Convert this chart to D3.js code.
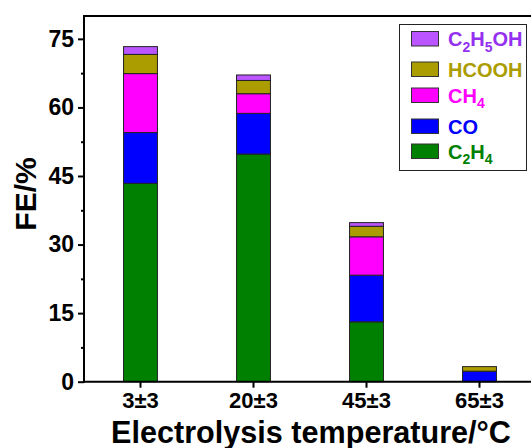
<!DOCTYPE html>
<html>
<head>
<meta charset="utf-8">
<script src="https://cdn.jsdelivr.net/npm/d3@7"></script>
<style>
  html, body { margin: 0; padding: 0; background: #fff; }
  svg { display: block; font-family: Arial, "Liberation Sans", sans-serif; }
</style>
</head>
<body>
<svg id="chart" width="531" height="448"></svg>
<script>
// ---- data ----
const categories = ["3±3", "20±3", "45±3", "65±3"];
const seriesNames = ["C2H4", "CO", "CH4", "HCOOH", "C2H5OH"];
const C2H4   = [43.4, 49.8, 13.1, 0.0];
const CO     = [11.1,  8.9, 10.2, 2.3];
const CH4    = [12.9,  4.3,  8.4, 0.0];
const HCOOH  = [ 4.2,  2.9,  2.3, 1.0];
const C2H5OH = [ 1.7,  1.2,  0.8, 0.0];
const yTicks = [0, 15, 30, 45, 60, 75];
const yMinorTicks = [7.5, 22.5, 37.5, 52.5, 67.5];

const seriesValues = { C2H4, CO, CH4, HCOOH, C2H5OH };
const fills = { C2H4: "#008000", CO: "#0000ff", CH4: "#ff00ff", HCOOH: "#ab9c00", C2H5OH: "#bb55ff" };
const textColors = { C2H4: "#008000", CO: "#0000ff", CH4: "#ff00ff", HCOOH: "#ab9c00", C2H5OH: "#9430f0" };
// label parts: [text, isSubscript]
const labelParts = {
  C2H5OH: [["C",0],["2",1],["H",0],["5",1],["OH",0]],
  HCOOH: [["HCOOH",0]],
  CH4: [["CH",0],["4",1]],
  CO: [["CO",0]],
  C2H4: [["C",0],["2",1],["H",0],["4",1]]
};

// ---- layout ----
const svg = d3.select("#chart");
const mLeft = 84, mTop = 16, mBottom = 381.7, mRight = 536;

const x = d3.scaleBand().domain(categories).range([mLeft, mRight])
  .paddingInner(0.7).paddingOuter(0.35);
const y = d3.scaleLinear().domain([0, 80]).range([mBottom, mTop]);

const table = categories.map((c, i) => {
  const row = { cat: c };
  seriesNames.forEach(s => row[s] = seriesValues[s][i]);
  return row;
});
const stacked = d3.stack().keys(seriesNames)(table);

// bars
const g = svg.append("g");
stacked.forEach(layer => {
  g.selectAll(null).data(layer.filter(d => d[1] - d[0] > 0)).enter().append("rect")
    .attr("x", d => x(d.data.cat))
    .attr("width", x.bandwidth())
    .attr("y", d => y(d[1]))
    .attr("height", d => y(d[0]) - y(d[1]))
    .attr("fill", fills[layer.key])
    .attr("stroke", "#222")
    .attr("stroke-width", 1);
});

// frame: top line
svg.append("line").attr("x1", mLeft).attr("x2", 531).attr("y1", mTop).attr("y2", mTop)
  .attr("stroke", "#000").attr("stroke-width", 2);

// y axis
const yAxis = d3.axisLeft(y).tickValues(yTicks).tickSize(6).tickPadding(4).tickFormat(d3.format("d"));
const ya = svg.append("g").attr("transform", `translate(${mLeft},0)`).call(yAxis);
ya.select(".domain").remove();
ya.selectAll(".tick line").attr("stroke", "#000").attr("stroke-width", 2);
ya.selectAll(".tick text").attr("font-size", 23).attr("font-weight", "bold").attr("fill", "#000")
  .attr("font-family", "Arial, 'Liberation Sans', sans-serif");
const yMinor = d3.axisLeft(y).tickValues(yMinorTicks).tickSize(3).tickFormat("");
const ym = svg.append("g").attr("transform", `translate(${mLeft},0)`).call(yMinor);
ym.select(".domain").remove();
ym.selectAll(".tick line").attr("stroke", "#000").attr("stroke-width", 2);
svg.append("line").attr("x1", mLeft).attr("x2", mLeft).attr("y1", mTop - 1).attr("y2", mBottom + 1)
  .attr("stroke", "#000").attr("stroke-width", 2);

// x axis
const xAxis = d3.axisBottom(x).tickSize(6).tickPadding(5);
const xa = svg.append("g").attr("transform", `translate(0,${mBottom})`).call(xAxis);
xa.select(".domain").remove();
xa.selectAll(".tick line").attr("stroke", "#000").attr("stroke-width", 2);
xa.selectAll(".tick text").attr("font-size", 22).attr("font-weight", "bold").attr("fill", "#000")
  .attr("font-family", "Arial, 'Liberation Sans', sans-serif");
svg.append("line").attr("x1", mLeft - 1).attr("x2", 531).attr("y1", mBottom).attr("y2", mBottom)
  .attr("stroke", "#000").attr("stroke-width", 2);

// axis titles
svg.append("text").attr("x", 311).attr("y", 443).attr("text-anchor", "middle")
  .attr("font-size", 30.6).attr("font-weight", "bold").attr("fill", "#000")
  .text("Electrolysis temperature/°C");
svg.append("text").attr("transform", "translate(36,194) rotate(-90)").attr("text-anchor", "middle")
  .attr("font-size", 30).attr("font-weight", "bold").attr("fill", "#000")
  .text("FE/%");

// legend
const legendOrder = ["C2H5OH", "HCOOH", "CH4", "CO", "C2H4"];
const rowTops = [31.5, 62, 88, 119, 144];
const lg = svg.append("g");
lg.append("rect").attr("x", 399.5).attr("y", 24.5).attr("width", 127).attr("height", 146)
  .attr("fill", "#fff").attr("stroke", "#222").attr("stroke-width", 1);
legendOrder.forEach((s, i) => {
  const ty = rowTops[i];
  lg.append("rect").attr("x", 411.5).attr("y", ty).attr("width", 27).attr("height", 14.5)
    .attr("fill", fills[s]).attr("stroke", "#333").attr("stroke-width", 1);
  const t = lg.append("text").attr("x", 448).attr("y", ty + 14.5)
    .attr("font-size", 20).attr("font-weight", "bold").attr("fill", textColors[s]);
  let shifted = false;
  labelParts[s].forEach(([txt, sub]) => {
    const ts = t.append("tspan").text(txt);
    if (sub) { ts.attr("font-size", 14).attr("dy", shifted ? 0 : 5.5); shifted = true; }
    else { ts.attr("dy", shifted ? -5.5 : 0); shifted = false; }
  });
});
</script>
</body>
</html>
